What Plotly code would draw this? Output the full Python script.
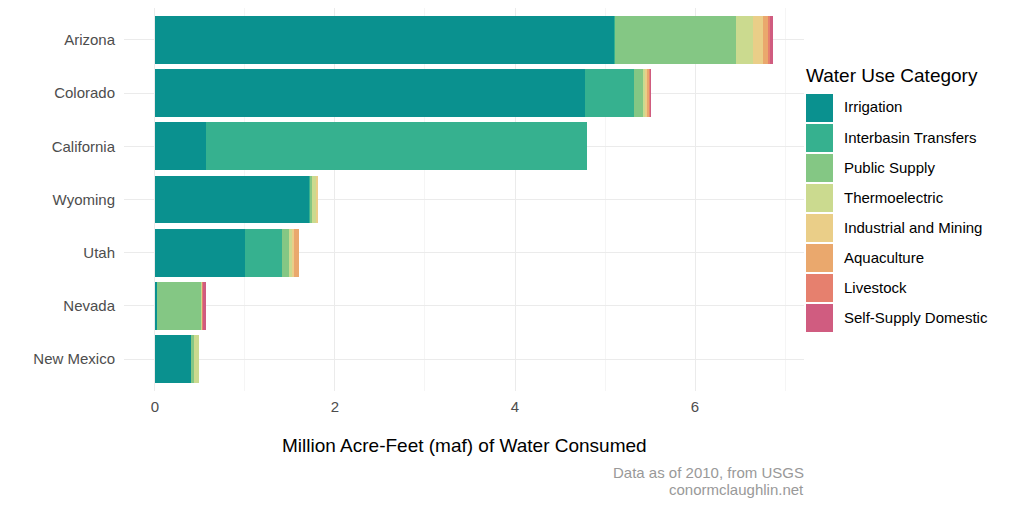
import plotly.graph_objects as go

# states, top to bottom
states = ["Arizona", "Colorado", "California", "Wyoming", "Utah", "Nevada", "New Mexico"]

categories = ["Irrigation", "Interbasin Transfers", "Public Supply", "Thermoelectric",
              "Industrial and Mining", "Aquaculture", "Livestock", "Self-Supply Domestic"]

# million acre-feet consumed, per state in the order above
irrigation = [5.10, 4.78, 0.567, 1.715, 1.003, 0.026, 0.404]
interbasin = [0.01, 0.537, 4.233, 0.015, 0.405, 0.0, 0.0]
public_supply = [1.35, 0.10, 0.0, 0.015, 0.09, 0.49, 0.03]
thermoelectric = [0.185, 0.03, 0.0, 0.045, 0.022, 0.011, 0.06]
industrial = [0.11, 0.022, 0.0, 0.025, 0.03, 0.0, 0.0]
aquaculture = [0.05, 0.026, 0.0, 0.0, 0.048, 0.0, 0.0]
livestock = [0.025, 0.007, 0.0, 0.0, 0.0, 0.011, 0.0]
self_supply = [0.037, 0.008, 0.0, 0.0, 0.0, 0.026, 0.0]

series = [irrigation, interbasin, public_supply, thermoelectric,
          industrial, aquaculture, livestock, self_supply]
colors = ["#0A918F", "#36B18F", "#84C784", "#CBDA8F",
          "#EACE88", "#EAA86D", "#E6806E", "#D05C80"]

x_ticks = [0, 2, 4, 6]
caption = ["Data as of 2010, from USGS", "conormclaughlin.net"]

fig = go.Figure()
for name, vals, col in zip(categories, series, colors):
    fig.add_trace(go.Bar(
        y=states, x=vals, name=name, orientation="h",
        marker=dict(color=col, line=dict(width=0)),
        showlegend=False,
    ))

totals = [sum(v) for v in zip(*series)]
xmax = max(totals)
pad = xmax * 0.05
n = len(states)

# the page puts the figure 8px in from the top-left corner
W, H, OFF = 1003, 500, 8
L, R, T, B = 124 - OFF, 207, 0, 117

fig.update_layout(
    barmode="stack",
    bargap=0.1,
    width=W, height=H,
    margin=dict(l=L, r=R, t=T, b=B),
    plot_bgcolor="white", paper_bgcolor="white",
    font=dict(family="Liberation Sans, Arial, sans-serif", color="#4D4D4D", size=15),
)
fig.update_xaxes(
    range=[-pad, xmax + pad], tickvals=x_ticks,
    showgrid=True, gridcolor="#EBEBEB", gridwidth=1.4,
    minor=dict(dtick=1, showgrid=True, gridcolor="#F5F5F5", gridwidth=0.8),
    zeroline=False, showline=False, ticks="", ticklabelstandoff=5,
    tickfont=dict(size=15, color="#4D4D4D"),
)
fig.update_yaxes(
    categoryorder="array", categoryarray=states[::-1],
    range=[-0.6, n - 0.4],
    showgrid=True, gridcolor="#EBEBEB", gridwidth=1.4,
    zeroline=False, showline=False, ticks="", ticklabelstandoff=8,
    tickfont=dict(size=15, color="#4D4D4D"),
)

plot_h = H - T - B
plot_w = W - L - R
def px_x(p):
    # p is a pixel column of the 1011x508 window
    return (p - OFF - L) / plot_w
def px_y(p):
    return (H - B - (p - OFF)) / plot_h

# axis title and caption
fig.add_annotation(text="Million Acre-Feet (maf) of Water Consumed", xref="paper", yref="paper",
                   x=0.5, y=px_y(445), xanchor="center", yanchor="middle", showarrow=False,
                   font=dict(size=19, color="#000000"))
for j, line in enumerate(caption):
    fig.add_annotation(text=line, xref="paper", yref="paper",
                       x=px_x(806), y=px_y(472 + 17 * j), xanchor="right", yanchor="middle",
                       showarrow=False, font=dict(size=15, color="#999999"))

# legend drawn by hand, ggplot style
fig.add_annotation(text="Water Use Category", xref="paper", yref="paper",
                   x=px_x(804), y=px_y(75), xanchor="left", yanchor="middle", showarrow=False,
                   font=dict(size=19, color="#000000"))
for i, (name, col) in enumerate(zip(categories, colors)):
    top = 93 + 30 * i
    fig.add_shape(type="rect", xref="paper", yref="paper",
                  x0=px_x(806), x1=px_x(833), y0=px_y(top + 29), y1=px_y(top + 1),
                  fillcolor=col, line=dict(width=0))
    fig.add_annotation(text=name, xref="paper", yref="paper",
                       x=px_x(842), y=px_y(top + 14), xanchor="left", yanchor="middle",
                       showarrow=False, font=dict(size=15, color="#000000"))

fig.write_html("out.html")
